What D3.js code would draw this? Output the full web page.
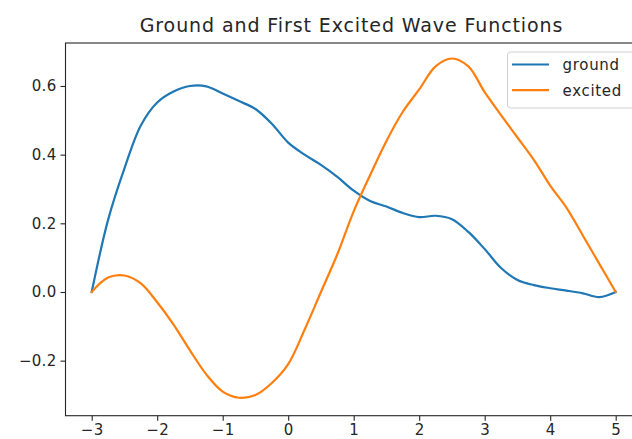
<!DOCTYPE html>
<html>
<head>
<meta charset="utf-8">
<script src="https://cdn.jsdelivr.net/npm/d3@7"></script>
<style>
  html, body { margin: 0; padding: 0; background: #fff; }
  svg { display: block; font-family: "DejaVu Sans", sans-serif; }
</style>
</head>
<body>
<svg id="chart" width="632" height="439"></svg>
<script>
// Sample positions shared by both wave functions
const xs = [-3, -2.75, -2.5, -2.25, -2, -1.75, -1.5, -1.25, -1, -0.75, -0.5, -0.25,
            0, 0.25, 0.5, 0.75, 1, 1.25, 1.5, 1.75, 2, 2.25, 2.5, 2.75,
            3, 3.25, 3.5, 3.75, 4, 4.25, 4.5, 4.75, 5];

// Ground state amplitude
const ground = [0, 0.21, 0.36, 0.485, 0.552, 0.584, 0.600, 0.599, 0.578, 0.556, 0.533, 0.49,
                0.435, 0.40, 0.37, 0.335, 0.295, 0.265, 0.249, 0.23, 0.218, 0.222, 0.212, 0.175,
                0.125, 0.07, 0.035, 0.02, 0.011, 0.004, -0.004, -0.015, 0];

// First excited state amplitude
const excited = [0, 0.042, 0.048, 0.025, -0.03, -0.095, -0.17, -0.24, -0.29, -0.308, -0.30, -0.265,
                 -0.21, -0.11, 0.0, 0.11, 0.235, 0.34, 0.44, 0.525, 0.59, 0.657, 0.68, 0.657,
                 0.582, 0.515, 0.45, 0.385, 0.31, 0.245, 0.164, 0.082, 0];

const seriesNames = ["ground", "excited"];
const seriesColors = ["#1f77b4", "#ff7f0e"];
const xTicks = [-3, -2, -1, 0, 1, 2, 3, 4, 5];
const yTicks = [-0.2, 0.0, 0.2, 0.4, 0.6];
const title = "Ground and First Excited Wave Functions";

const svg = d3.select("#chart");
const plotLeft = 65.5, plotRight = 641.9, plotTop = 43, plotBottom = 415.7;

const x = d3.scaleLinear().domain([-3.4, 5.4]).range([plotLeft, plotRight]);
const y = d3.scaleLinear().domain([-0.3603, 0.7252]).range([plotBottom, plotTop]);

const fontSize = 15;

// Curves
const series = [ground, excited];
const line = d3.line()
  .x((d, i) => x(xs[i]))
  .y(d => y(d))
  .curve(d3.curveCatmullRom.alpha(0.5));

series.forEach((vals, k) => {
  svg.append("path")
    .datum(vals)
    .attr("d", line)
    .attr("fill", "none")
    .attr("stroke", seriesColors[k])
    .attr("stroke-width", 2.2)
    .attr("stroke-linejoin", "round")
    .attr("stroke-linecap", "square");
});

// Axes
const xAxis = svg.append("g")
  .attr("transform", `translate(0,${plotBottom})`)
  .call(d3.axisBottom(x).tickValues(xTicks).tickFormat(d3.format("d")).tickSizeOuter(0).tickSize(5).tickPadding(4));
const yAxis = svg.append("g")
  .attr("transform", `translate(${plotLeft},0)`)
  .call(d3.axisLeft(y).tickValues(yTicks).tickFormat(d3.format(".1f")).tickSizeOuter(0).tickSize(5).tickPadding(4));

[xAxis, yAxis].forEach(g => {
  g.selectAll("text").attr("font-size", fontSize).attr("fill", "#262626")
    .attr("font-family", "DejaVu Sans").attr("letter-spacing", 0.3);
  g.selectAll(".tick line").attr("stroke", "#262626").attr("stroke-width", 1.1);
  g.select(".domain").remove();
});

// Frame spines
svg.append("rect")
  .attr("x", plotLeft).attr("y", plotTop)
  .attr("width", plotRight - plotLeft).attr("height", plotBottom - plotTop)
  .attr("fill", "none").attr("stroke", "#262626").attr("stroke-width", 1.1);

// Title
svg.append("text")
  .attr("x", 351.5)
  .attr("y", 32)
  .attr("text-anchor", "middle")
  .attr("font-size", 19)
  .attr("letter-spacing", 0.9)
  .attr("fill", "#262626")
  .text(title);

// Legend
const lg = svg.append("g");
lg.append("rect")
  .attr("x", 507.5).attr("y", 52)
  .attr("width", 128).attr("height", 56)
  .attr("rx", 3)
  .attr("fill", "#fff").attr("fill-opacity", 0.8)
  .attr("stroke", "#d0d0d0").attr("stroke-width", 1);
seriesNames.forEach((name, k) => {
  const yy = 64.5 + k * 25.7;
  lg.append("line")
    .attr("x1", 512).attr("x2", 549)
    .attr("y1", yy).attr("y2", yy)
    .attr("stroke", seriesColors[k]).attr("stroke-width", 2.2);
  lg.append("text")
    .attr("x", 562.5).attr("y", yy + 5.5)
    .attr("font-size", fontSize)
    .attr("letter-spacing", 0.7)
    .attr("fill", "#262626")
    .text(name);
});
</script>
</body>
</html>
